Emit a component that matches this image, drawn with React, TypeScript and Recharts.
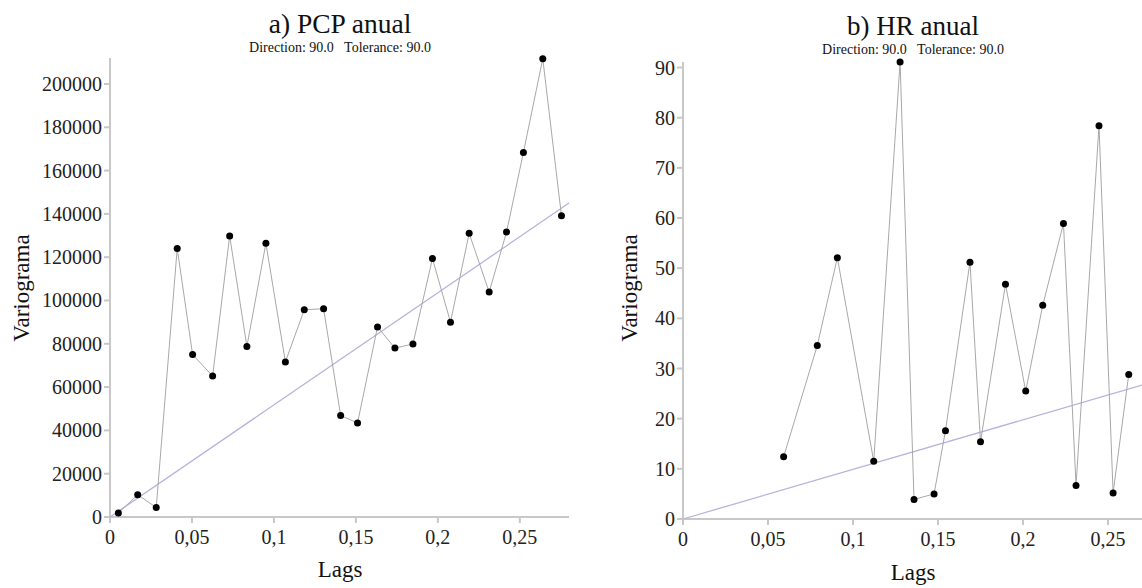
import { ScatterChart, Scatter, XAxis, YAxis } from 'recharts';

// a) PCP anual
const lagsPCP = [0.0051, 0.0169, 0.0282, 0.041, 0.0504, 0.0626, 0.073, 0.0835, 0.0951, 0.107, 0.1185, 0.1303, 0.1407, 0.151, 0.1632, 0.1738, 0.1848, 0.1967, 0.2077, 0.2191, 0.2313, 0.2419, 0.2522, 0.264, 0.2754];
const gammaPCP = [1850, 10300, 4400, 124000, 75000, 65100, 129800, 78800, 126400, 71600, 95700, 96200, 46900, 43400, 87800, 78000, 79900, 119400, 90000, 131000, 103900, 131600, 168400, 211700, 139100];
const fitLagsPCP = [0, 0.28];
const fitPCP = [0, 145000];
const yTicksPCP = [0, 20000, 40000, 60000, 80000, 100000, 120000, 140000, 160000, 180000, 200000];

// b) HR anual
const lagsHR = [0.0592, 0.079, 0.0908, 0.1122, 0.1277, 0.1359, 0.1477, 0.1544, 0.1688, 0.175, 0.1897, 0.2016, 0.2116, 0.2238, 0.2312, 0.2447, 0.253, 0.2622];
const gammaHR = [12.4, 34.6, 52.1, 11.5, 91.1, 3.9, 5.0, 17.6, 51.2, 15.4, 46.8, 25.5, 42.6, 58.9, 6.7, 78.4, 5.2, 28.8];
const fitLagsHR = [0, 0.27];
const fitHR = [0, 26.7];
const yTicksHR = [0, 10, 20, 30, 40, 50, 60, 70, 80, 90];

const xTicks = [0, 0.05, 0.1, 0.15, 0.2, 0.25];

const FONT = 'Liberation Serif';
const AXIS = '#c8c8c8';
const zip = (xs: number[], ys: number[]) => xs.map((x, i) => ({ x, y: ys[i] }));
const fmtLag = (v: number) => String(v).replace('.', ',');

const Dot = (p: any) => <circle cx={p.cx} cy={p.cy} r={3.5} fill="#000" />;
const NoDot = () => <g />;

// tick labels drawn as plain svg text so the serif face sticks
const XTick = (p: any) => (
  <text x={p.x} y={p.y} dy={15} textAnchor="middle" fontFamily={FONT} fontSize={20} fill="#222">
    {fmtLag(p.payload.value)}
  </text>
);
const YTick = (p: any) => (
  <text x={p.x} y={p.y} dy={7} textAnchor="end" fontFamily={FONT} fontSize={20} fill="#222">
    {p.payload.value}
  </text>
);

interface PanelProps {
  lags: number[];
  gamma: number[];
  fitLags: number[];
  fit: number[];
  yTicks: number[];
  yMax: number;
  xMax: number;
  width: number;
  yWidth: number;
  margin: { top: number; right: number; bottom: number; left: number };
}

function Panel({ lags, gamma, fitLags, fit, yTicks, yMax, xMax, width, yWidth, margin }: PanelProps) {
  return (
    <ScatterChart width={width} height={588} margin={margin}>
      <XAxis
        type="number"
        dataKey="x"
        domain={[0, xMax]}
        ticks={xTicks}
        height={40}
        stroke={AXIS}
        strokeWidth={2}
        tickSize={6}
        tickMargin={6}
        tick={XTick}
      />
      <YAxis
        type="number"
        dataKey="y"
        domain={[0, yMax]}
        ticks={yTicks}
        width={yWidth}
        stroke={AXIS}
        strokeWidth={2}
        tickSize={6}
        tickMargin={2}
        tick={YTick}
      />
      <Scatter
        data={zip(fitLags, fit)}
        line={{ stroke: '#b4b4dc', strokeWidth: 1.3 }}
        shape={NoDot}
        isAnimationActive={false}
      />
      <Scatter
        data={zip(lags, gamma)}
        line={{ stroke: '#a8a8a8', strokeWidth: 1 }}
        shape={Dot}
        isAnimationActive={false}
      />
    </ScatterChart>
  );
}

export default function App() {
  const txt = { fill: '#111', fontFamily: FONT };
  return (
    <div style={{ position: 'absolute', left: 0, top: 0, width: 1142, height: 588, background: '#fff', overflow: 'hidden' }}>
      <div style={{ position: 'absolute', left: 0, top: 0 }}>
        <Panel
          lags={lagsPCP} gamma={gammaPCP} fitLags={fitLagsPCP} fit={fitPCP}
          yTicks={yTicksPCP} yMax={212000} xMax={0.28}
          width={580} yWidth={110}
          margin={{ top: 58, right: 11, bottom: 31, left: 0 }}
        />
      </div>
      <div style={{ position: 'absolute', left: 572, top: 0 }}>
        <Panel
          lags={lagsHR} gamma={gammaHR} fitLags={fitLagsHR} fit={fitHR}
          yTicks={yTicksHR} yMax={91} xMax={0.27}
          width={570} yWidth={111}
          margin={{ top: 62, right: 0, bottom: 29, left: 0 }}
        />
      </div>
      <svg width={1142} height={588} style={{ position: 'absolute', left: 0, top: 0, pointerEvents: 'none' }}>
        <text x={340} y={33} textAnchor="middle" fontSize={27.5} {...txt}>a) PCP anual</text>
        <text x={340} y={51.5} textAnchor="middle" fontSize={14} xmlSpace="preserve" {...txt}>Direction: 90.0   Tolerance: 90.0</text>
        <text x={340} y={577} textAnchor="middle" fontSize={23} {...txt}>Lags</text>
        <text x={29} y={288} textAnchor="middle" fontSize={23} transform="rotate(-90, 29, 288)" {...txt}>Variograma</text>

        <text x={913} y={35} textAnchor="middle" fontSize={27} {...txt}>b) HR anual</text>
        <text x={913} y={54} textAnchor="middle" fontSize={14} xmlSpace="preserve" {...txt}>Direction: 90.0   Tolerance: 90.0</text>
        <text x={913} y={580} textAnchor="middle" fontSize={23} {...txt}>Lags</text>
        <text x={637} y={288} textAnchor="middle" fontSize={23} transform="rotate(-90, 637, 288)" {...txt}>Variograma</text>
      </svg>
    </div>
  );
}
